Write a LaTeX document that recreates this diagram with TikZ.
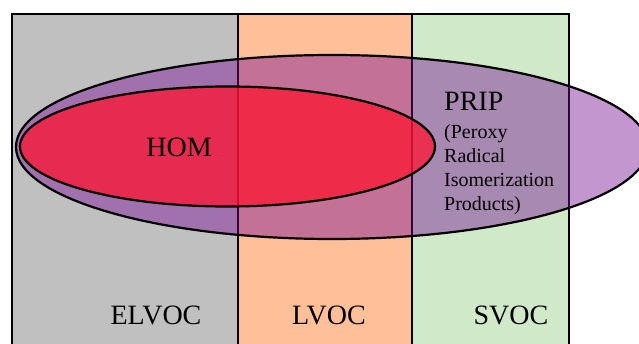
\documentclass[tikz,border=0pt]{standalone}
\usepackage{fontspec}
\setmainfont{Liberation Serif}
\usepackage{xcolor}
\usetikzlibrary{positioning}

\definecolor{elvocgray}{RGB}{192,192,192}
\definecolor{lvocpeach}{RGB}{255,191,153}
\definecolor{svocgreen}{RGB}{207,233,201}
\definecolor{pripviolet}{RGB}{118,11,146}
\definecolor{homred}{RGB}{255,20,50}

\begin{document}
\begin{tikzpicture}[
    x=1pt, y=-1pt,
    divider/.style={draw=black, line width=1.6pt},
    blob/.style={draw=black, line width=2.2pt},
    biglabel/.style={font=\fontsize{28}{32}\selectfont, inner sep=0pt},
    notelabel/.style={font=\fontsize{20}{24}\selectfont, align=left, inner sep=0pt}
]
    \useasboundingbox (0,0) rectangle (639,344);
    \clip (0,0) rectangle (639,344);

    % volatility columns
    \fill[elvocgray] (12,14) rectangle (238,360);
    \fill[lvocpeach] (238,14) rectangle (412,360);
    \fill[svocgreen] (412,14) rectangle (569,360);
    \draw[divider] (12,360) -- (12,14) -- (569,14) -- (569,360);
    \draw[divider] (238,14) -- (238,360);
    \draw[divider] (412,14) -- (412,360);

    % product classes
    \draw[blob, fill=pripviolet, fill opacity=0.43] (332,147) ellipse [x radius=316, y radius=92];
    \draw[blob, fill=homred, fill opacity=0.75] (227.5,146.5) ellipse [x radius=207.5, y radius=60];

    \node[biglabel, anchor=base] (hom) at (179,157) {HOM};
    \node[biglabel, anchor=base west] (prip) at (444,111) {PRIP};
    \node[notelabel, below right=13pt and 0pt of prip.base west] (pripnote) {(Peroxy\\Radical\\Isomerization\\Products)};

    \node[biglabel, anchor=base] (elvoc) at (156,324) {ELVOC};
    \node[biglabel, anchor=base] (lvoc) at (329,324) {LVOC};
    \node[biglabel, anchor=base] (svoc) at (511,324) {SVOC};
\end{tikzpicture}
\end{document}
